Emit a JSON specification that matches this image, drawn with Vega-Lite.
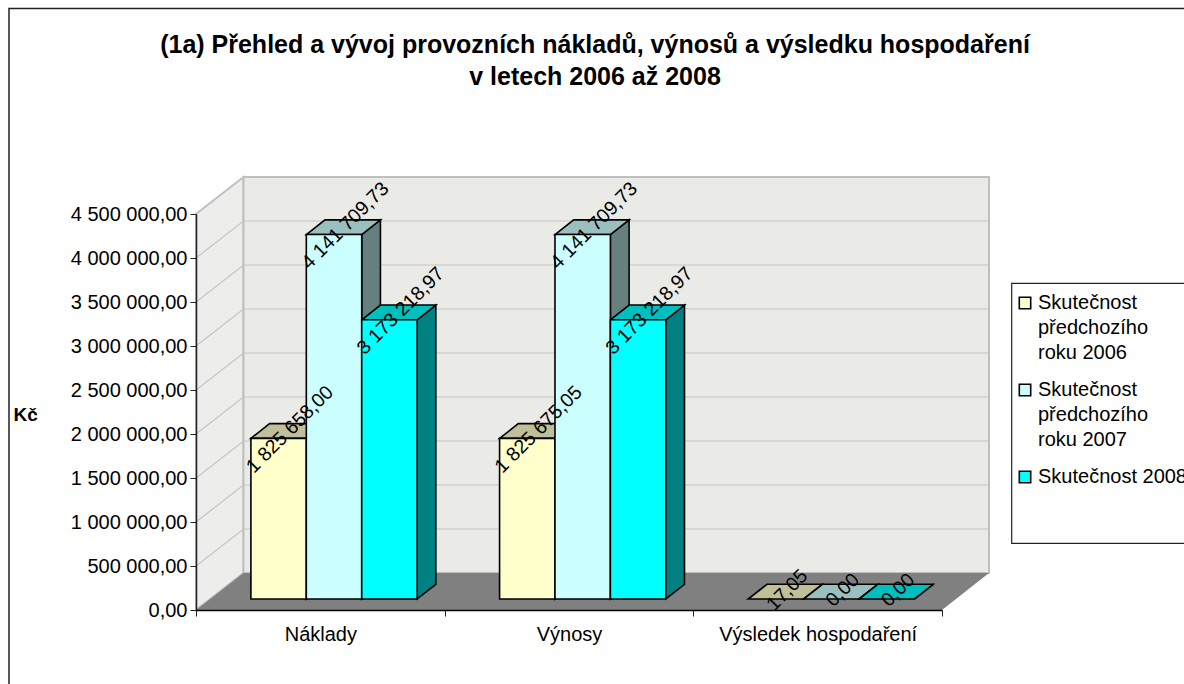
{
"$schema":"https://vega.github.io/schema/vega-lite/v6.json",
"width":746,"height":396,
"autosize":{"type":"none"},
"padding":{"left":196,"top":214,"right":242,"bottom":74},
"background":"white",
"config":{"font":"Liberation Sans","view":{"stroke":null}},
"title":{"text":["(1a) Přehled a vývoj provozních nákladů, výnosů a výsledku hospodaření","v letech 2006 až 2008"],"font":"Liberation Sans","fontSize":25,"fontWeight":"bold","lineHeight":32,"anchor":"middle","frame":"group","dx":26,"offset":-84,"color":"#000000"},
"data":{"values":[
{"kategorie":"Náklady","rada":"Skutečnost předchozího roku 2006","hodnota":1825658.00,"popisek":"1 825 658,00"},
{"kategorie":"Náklady","rada":"Skutečnost předchozího roku 2007","hodnota":4141709.73,"popisek":"4 141 709,73"},
{"kategorie":"Náklady","rada":"Skutečnost 2008","hodnota":3173218.97,"popisek":"3 173 218,97"},
{"kategorie":"Výnosy","rada":"Skutečnost předchozího roku 2006","hodnota":1825675.05,"popisek":"1 825 675,05"},
{"kategorie":"Výnosy","rada":"Skutečnost předchozího roku 2007","hodnota":4141709.73,"popisek":"4 141 709,73"},
{"kategorie":"Výnosy","rada":"Skutečnost 2008","hodnota":3173218.97,"popisek":"3 173 218,97"},
{"kategorie":"Výsledek hospodaření","rada":"Skutečnost předchozího roku 2006","hodnota":17.05,"popisek":"17,05"},
{"kategorie":"Výsledek hospodaření","rada":"Skutečnost předchozího roku 2007","hodnota":0,"popisek":"0,00"},
{"kategorie":"Výsledek hospodaření","rada":"Skutečnost 2008","hodnota":0,"popisek":"0,00"}
]},
"resolve":{"scale":{"color":"independent","shape":"independent"}},
"layer":[
{"data":{"values":[{"h":0}]},
 "mark":{"type":"point","filled":true,"opacity":1,"size":4,"fill":"#EDEDEB","stroke":"#C0C0C0","strokeWidth":2,"shape":"M-373,0L-325.5,-37L-325.5,-433L-373,-396Z"},
 "encoding":{"y":{"field":"h","type":"quantitative","scale":{"domain":[0,4500000],"nice":false},
  "axis":{"zindex":1,"values":[0,500000,1000000,1500000,2000000,2500000,3000000,3500000,4000000,4500000],"labelExpr":"replace(replace(format(datum.value,',.2f'),/,/g,' '),'.',',')","labelFont":"Liberation Sans","labelFontSize":20,"labelColor":"#000000","labelPadding":3,"tickSize":6,"tickColor":"#222222","domainColor":"#222222","domainWidth":1.5,"grid":false,"title":"Kč","titleFont":"Liberation Sans","titleFontSize":19,"titleFontWeight":"bold","titleAngle":0,"titleAlign":"left","titleBaseline":"middle","titleX":-183,"titleY":200,"titleColor":"#000000"}}}},
{"data":{"values":[{"h":0}]},
 "mark":{"type":"point","filled":true,"opacity":1,"size":4,"fill":"#EAEAE7","stroke":"#C0C0C0","strokeWidth":2,"shape":"M-325.5,-37L420,-37L420,-433L-325.5,-433Z"},
 "encoding":{"y":{"field":"h","type":"quantitative"}}},
{"data":{"values":[{"h":500000},{"h":1000000},{"h":1500000},{"h":2000000},{"h":2500000},{"h":3000000},{"h":3500000},{"h":4000000}]},
 "mark":{"type":"point","filled":false,"opacity":1,"size":4,"stroke":"#C4C4C4","strokeWidth":1.2,"shape":"M-373,0L-325.5,-37L420,-37"},
 "encoding":{"y":{"field":"h","type":"quantitative"}}},
{"data":{"values":[{"h":0}]},
 "mark":{"type":"point","filled":true,"opacity":1,"size":4,"fill":"#808080","strokeWidth":0,"shape":"M-373,0L373,0L420,-37L-325.5,-37Z"},
 "encoding":{"y":{"field":"h","type":"quantitative"}}},
{"data":{"values":[{"h":0}]},
 "mark":{"type":"point","filled":false,"opacity":1,"size":4,"stroke":"#222222","strokeWidth":1.5,"shape":"M-560,90L-560,-601.5L631,-601.5L631,90"},
 "encoding":{"y":{"field":"h","type":"quantitative"}}},
{"data":{"values":[{"h":0}]},
 "mark":{"type":"point","filled":false,"opacity":1,"size":4,"stroke":"#222222","strokeWidth":1.2,"shape":"M631,-326.7L442.7,-326.7L442.7,-66.7L631,-66.7"},
 "encoding":{"y":{"field":"h","type":"quantitative"}}},
{"mark":{"type":"point","filled":true,"opacity":1,"size":4,"stroke":"#000000","strokeWidth":1.6,"yOffset":-11},
 "encoding":{
  "x":{"field":"kategorie","type":"nominal","sort":["Náklady","Výnosy","Výsledek hospodaření"],"scale":{"type":"band","paddingInner":0,"paddingOuter":0},
   "axis":{"zindex":1,"title":null,"labelAngle":0,"labelFont":"Liberation Sans","labelFontSize":20,"labelColor":"#000000","labelPadding":8,"tickBand":"extent","tickSize":6,"tickColor":"#222222","domainColor":"#000000","domainWidth":1.5,"grid":false,"labelLimit":300}},
  "xOffset":{"field":"rada","type":"nominal","sort":["Skutečnost předchozího roku 2006","Skutečnost předchozího roku 2007","Skutečnost 2008"],"scale":{"type":"band","paddingInner":0,"paddingOuter":0.744,"align":0.666}},
  "y":{"field":"hodnota","type":"quantitative"},
  "shape":{"field":"hodnota","type":"nominal","legend":null,"scale":{"domain":[1825658,4141709.73,3173218.97,1825675.05,17.05,0],"range":[
    "M27.7,0L46.4,-14.7L46.4,146L27.7,160.7Z","M27.7,0L46.4,-14.7L46.4,349.8L27.7,364.5Z","M27.7,0L46.4,-14.7L46.4,264.5L27.7,279.2Z","M27.7,0L46.4,-14.7L46.4,146L27.7,160.7Z","M27.7,0L46.4,-14.7L46.4,-14.7L27.7,0Z","M27.7,0L46.4,-14.7L46.4,-14.7L27.7,0Z"]}},
  "color":{"field":"rada","type":"nominal","sort":["Skutečnost předchozího roku 2006","Skutečnost předchozího roku 2007","Skutečnost 2008"],"legend":null,"scale":{"domain":["Skutečnost předchozího roku 2006","Skutečnost předchozího roku 2007","Skutečnost 2008"],"range":["#808066","#668080","#008080"]}}}},
{"mark":{"type":"point","filled":true,"opacity":1,"size":4,"stroke":"#000000","strokeWidth":1.6,"yOffset":-11,"shape":"M-27.7,0L-9,-14.7L46.4,-14.7L27.7,0Z"},
 "encoding":{
  "x":{"field":"kategorie","type":"nominal","sort":["Náklady","Výnosy","Výsledek hospodaření"]},
  "xOffset":{"field":"rada","type":"nominal","sort":["Skutečnost předchozího roku 2006","Skutečnost předchozího roku 2007","Skutečnost 2008"]},
  "y":{"field":"hodnota","type":"quantitative"},
  "color":{"field":"rada","type":"nominal","legend":null,"scale":{"domain":["Skutečnost předchozího roku 2006","Skutečnost předchozího roku 2007","Skutečnost 2008"],"range":["#BFBF99","#99BFBF","#00BFBF"]}}}},
{"transform":[{"filter":"datum.hodnota > 100"}],
 "mark":{"type":"bar","stroke":"#000000","strokeWidth":1.6,"yOffset":-11,"y2Offset":-11},
 "encoding":{
  "x":{"field":"kategorie","type":"nominal","sort":["Náklady","Výnosy","Výsledek hospodaření"]},
  "xOffset":{"field":"rada","type":"nominal","sort":["Skutečnost předchozího roku 2006","Skutečnost předchozího roku 2007","Skutečnost 2008"]},
  "y":{"field":"hodnota","type":"quantitative","stack":null},
  "y2":{"datum":0},
  "color":{"field":"rada","type":"nominal","sort":["Skutečnost předchozího roku 2006","Skutečnost předchozího roku 2007","Skutečnost 2008"],
   "scale":{"domain":["Skutečnost předchozího roku 2006","Skutečnost předchozího roku 2007","Skutečnost 2008"],"range":["#FFFFCC","#CCFFFF","#00FFFF"]},
   "legend":{"orient":"none","legendX":819,"legendY":79,"title":null,"symbolType":"square","symbolSize":130,"symbolStrokeWidth":1.6,"symbolStrokeColor":"#000000","labelFont":"Liberation Sans","labelFontSize":20,"labelColor":"#000000","labelLimit":400,"rowPadding":17,"labelOffset":3,"labelExpr":"split(replace(datum.label,'Skutečnost předchozího ','Skutečnost|předchozího|'),'|')","encoding":{"labels":{"lineHeight":{"value":25}}}}}}},
{"mark":{"type":"text","font":"Liberation Sans","fontSize":19.5,"angle":315,"align":"center","baseline":"middle","color":"#000000","dx":22,"dy":-6},
 "encoding":{
  "x":{"field":"kategorie","type":"nominal","sort":["Náklady","Výnosy","Výsledek hospodaření"]},
  "xOffset":{"field":"rada","type":"nominal","sort":["Skutečnost předchozího roku 2006","Skutečnost předchozího roku 2007","Skutečnost 2008"]},
  "y":{"field":"hodnota","type":"quantitative"},
  "text":{"field":"popisek","type":"nominal"}}}
]}
